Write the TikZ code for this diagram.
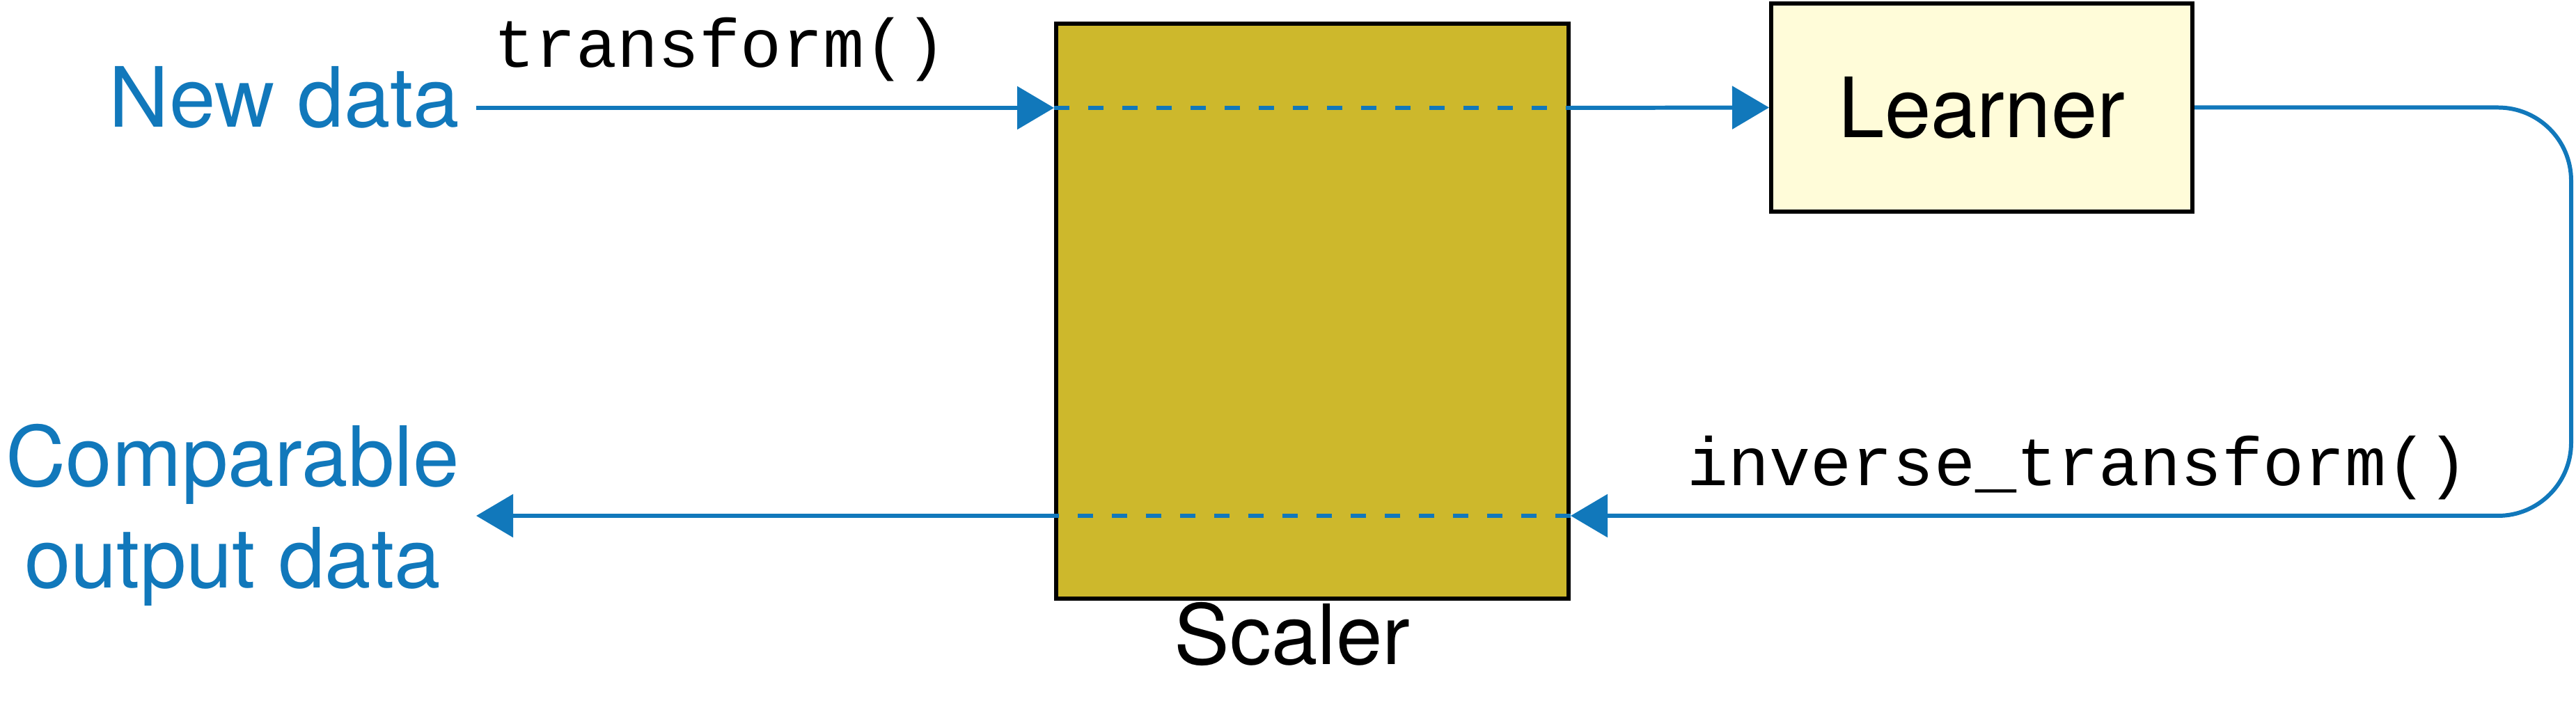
\documentclass[tikz,border=0pt]{standalone}
\usepackage{fontspec}
\setmainfont{TeX Gyre Heros}
\setmonofont{Liberation Mono}
\usetikzlibrary{arrows.meta,positioning}
\definecolor{flowblue}{RGB}{17,120,187}
\definecolor{scalergold}{RGB}{205,184,44}
\definecolor{learnercream}{RGB}{255,252,217}
\tikzset{
	flow/.style={draw=flowblue, line width=1.7pt, -{Triangle[length=0.53cm,width=0.61cm]}},
	flowdash/.style={draw=flowblue, line width=1.7pt, dash pattern=on 0.22cm off 0.27cm},
	sidetext/.style={text=flowblue, font=\fontsize{34}{41.8}\selectfont, inner sep=0pt},
	codetext/.style={font=\ttfamily\fontsize{28}{33}\selectfont, inner sep=0pt},
	box/.style={draw=black, line width=1.7pt, font=\fontsize{34}{41.8}\selectfont}
}
\begin{document}
\begin{tikzpicture}
				\useasboundingbox (0,0) rectangle (37,10.2);
				\node[box, fill=scalergold, minimum width=7.36cm, minimum height=8.26cm] (scaler) at (18.85,5.73) {};
				\node[box, fill=learnercream, minimum width=6.05cm, minimum height=2.99cm] (learner) at (28.465,8.655) {Learner};
				\node[sidetext, anchor=base east] (newdata) at (6.61,8.37) {New data};
				\node[sidetext, align=center, anchor=base] (output) at (3.34,1.75) {Comparable\\output data};
				\node[font=\fontsize{34}{41.8}\selectfont, inner sep=0pt, anchor=base] (scalerlabel) at (18.56,0.65) {Scaler};
				\node[codetext, anchor=base west] (fwdlabel) at (7.09,9.23) {transform()};
				\node[codetext, anchor=base west] (invlabel) at (24.23,3.22) {inverse\_transform()};
				\coordinate (inpt) at (6.84,8.65);
				\coordinate (outpt) at (6.84,2.79);
				\coordinate (loop) at (36.93,5.7);
				% forward pass
				\draw[flow] (inpt) -- (scaler.west |- inpt);
				\draw[flowdash] (scaler.west |- inpt) -- (scaler.east |- inpt);
				\draw[flow] (scaler.east |- inpt) -- (learner.west);
				% backward pass
				\draw[flow, rounded corners=1.05cm] (learner.east) -| (loop) |- (scaler.east |- outpt);
				\draw[flowdash] (scaler.east |- outpt) -- (scaler.west |- outpt);
				\draw[flow] (scaler.west |- outpt) -- (outpt);
			\end{tikzpicture}
\end{document}
